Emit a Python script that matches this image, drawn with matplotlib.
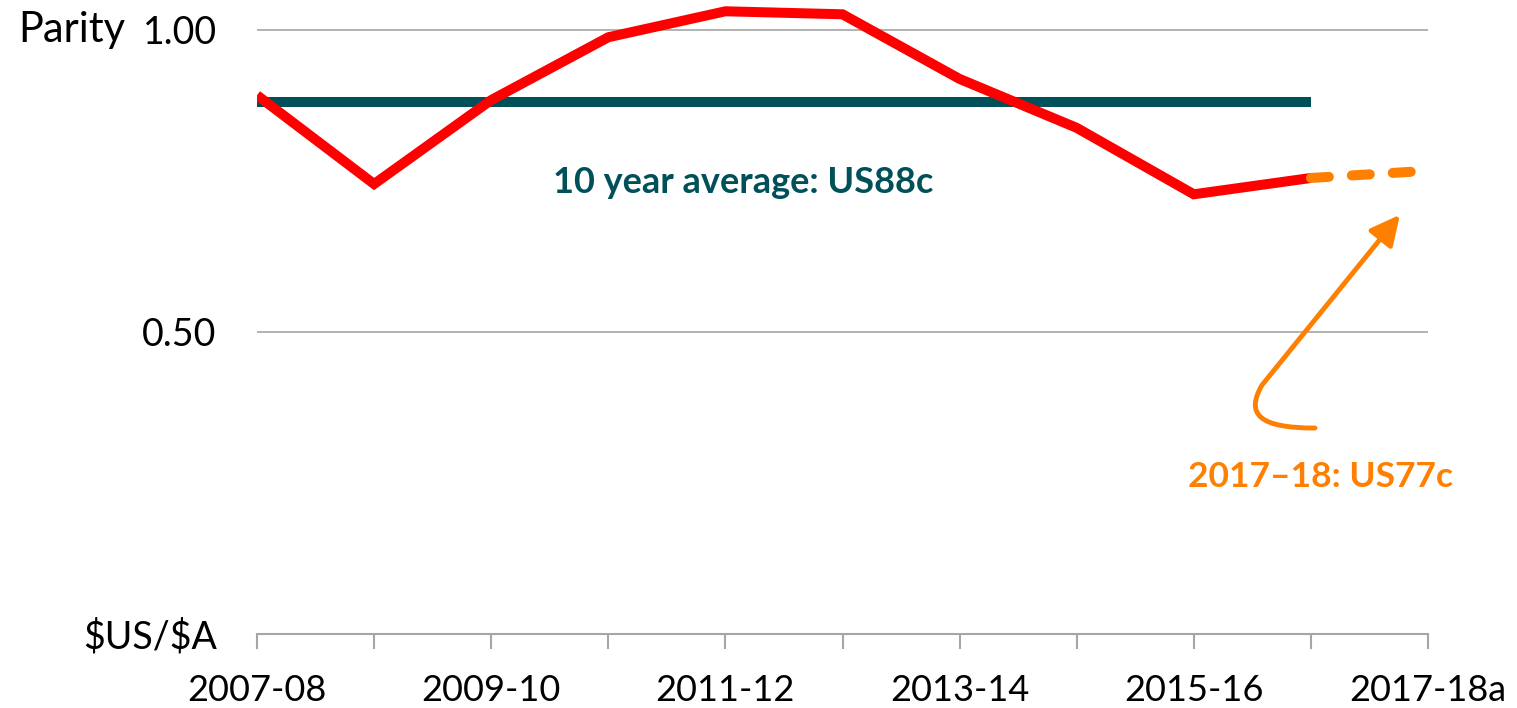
import matplotlib
matplotlib.use('Agg')
import matplotlib.pyplot as plt
from matplotlib.path import Path
from matplotlib.patches import FancyArrowPatch

plt.rcParams['font.family'] = ['Lato', 'DejaVu Sans']

years = ['2007-08', '2008-09', '2009-10', '2010-11', '2011-12', '2012-13',
         '2013-14', '2014-15', '2015-16', '2016-17', '2017-18a']
parity = [0.892, 0.745, 0.884, 0.988, 1.031, 1.026, 0.919, 0.838, 0.728, 0.755]
forecast = [0.755, 0.767]
average = 0.88

red = '#FF0000'
orange = '#FF7F00'
teal = '#00505A'
grey = '#A6A6A6'

fig = plt.figure(figsize=(15.17, 7.08), dpi=100)
ax = fig.add_axes([257 / 1517, 74 / 708, 1171 / 1517, 634 / 708])

xs = list(range(len(years)))
ax.plot(xs[:len(parity)], parity, color=red, lw=7.2, solid_joinstyle='miter',
        solid_capstyle='butt', zorder=3)
ax.plot(xs[len(parity) - 1:], forecast, color=orange, lw=7.2, dashes=[1.8, 2.3],
        dash_capstyle='round', zorder=4)
ax.plot(xs[:len(parity)], [average] * len(parity), color=teal, lw=7.2,
        solid_capstyle='butt', zorder=2)

ax.set_xlim(0, len(years) - 1)
ax.set_ylim(0, 634 / 604)
ax.set_yticks([0, 0.5, 1.0])
ax.set_yticklabels(['\\$US/\\$A', '0.50', '1.00'], fontsize=27)
ax.tick_params(axis='y', length=0, pad=29)
ax.yaxis.grid(True, color=grey, lw=1.2)
ax.set_axisbelow(True)

ax.set_xticks(xs)
ax.set_xticklabels([y if i % 2 == 0 else '' for i, y in enumerate(years)], fontsize=26)
ax.tick_params(axis='x', length=11, width=1.5, color=grey, direction='out', pad=18)

for s in ['left', 'top', 'right']:
    ax.spines[s].set_visible(False)
ax.spines['bottom'].set_color(grey)
ax.spines['bottom'].set_linewidth(1.5)

fig.text(18 / 1517, 1 - 30 / 708, 'Parity', fontsize=30, va='center', ha='left')

ax.text(4.15, 0.747, '10 year average: US88c', color=teal, fontsize=26,
        fontweight='bold', ha='center', va='center')
ax.text(9.08, 0.26, '2017\u201318: US77c', color=orange, fontsize=25.5,
        fontweight='bold', ha='center', va='center')

verts = [(9.035, 0.341), (8.565, 0.341), (8.437, 0.363), (8.582, 0.412), (9.76, 0.694)]
codes = [Path.MOVETO, Path.CURVE4, Path.CURVE4, Path.CURVE4, Path.LINETO]
arrow = FancyArrowPatch(path=Path(verts, codes),
                        arrowstyle='-|>,head_length=0.6,head_width=0.3',
                        mutation_scale=30, color=orange, lw=3.5, clip_on=False, zorder=5)
ax.add_patch(arrow)

fig.savefig('out.png', dpi=100)
